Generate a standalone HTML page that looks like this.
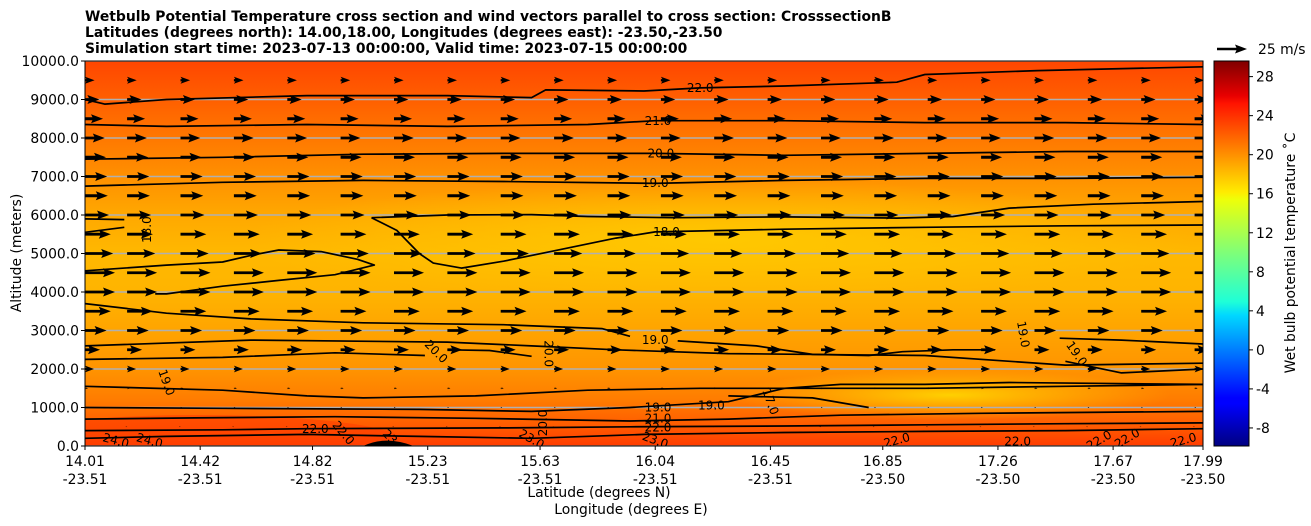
<!DOCTYPE html>
<html><head><meta charset="utf-8"><style>
html,body{margin:0;padding:0;background:#fff;}
svg{display:block;font-family:"DejaVu Sans","Liberation Sans",sans-serif;}
</style></head><body>
<svg id="chart" width="1311" height="526" viewBox="0 0 1311 526" xmlns="http://www.w3.org/2000/svg">
<defs>
<linearGradient id="field" x1="0" y1="0" x2="0" y2="1">
<stop offset="0" stop-color="#ff4600"/>
<stop offset="0.08" stop-color="#ff5a00"/>
<stop offset="0.2" stop-color="#ff7800"/>
<stop offset="0.3" stop-color="#ff9000"/>
<stop offset="0.4" stop-color="#ffa800"/>
<stop offset="0.5" stop-color="#ffb800"/>
<stop offset="0.6" stop-color="#ffb400"/>
<stop offset="0.7" stop-color="#ffa400"/>
<stop offset="0.8" stop-color="#ff9400"/>
<stop offset="0.88" stop-color="#ff7c00"/>
<stop offset="0.95" stop-color="#ff5a00"/>
<stop offset="1" stop-color="#ff3c00"/>
</linearGradient>
<radialGradient id="core" cx="0.5" cy="0.5" r="0.5">
<stop offset="0" stop-color="#ffc800" stop-opacity="1"/>
<stop offset="1" stop-color="#ffc800" stop-opacity="0"/>
</radialGradient>
<radialGradient id="core2" cx="0.5" cy="0.5" r="0.5">
<stop offset="0" stop-color="#ffd000" stop-opacity="1"/>
<stop offset="1" stop-color="#ffc000" stop-opacity="0"/>
</radialGradient>
<linearGradient id="jet" x1="0" y1="1" x2="0" y2="0">
<stop offset="0" stop-color="#000080"/>
<stop offset="0.11" stop-color="#0000ff"/>
<stop offset="0.125" stop-color="#0000ff"/>
<stop offset="0.34" stop-color="#00d8ff"/>
<stop offset="0.375" stop-color="#1fffd7"/>
<stop offset="0.5" stop-color="#7dff7a"/>
<stop offset="0.64" stop-color="#eeff09"/>
<stop offset="0.66" stop-color="#ffeb00"/>
<stop offset="0.89" stop-color="#ff1300"/>
<stop offset="0.91" stop-color="#e80000"/>
<stop offset="1" stop-color="#800000"/>
</linearGradient>
<clipPath id="plotclip"><rect x="85" y="61" width="1118" height="385"/></clipPath>
</defs>
<g id="title" font-weight="bold" font-size="13.9">
<text x="85" y="21">Wetbulb Potential Temperature cross section and wind vectors parallel to cross section: CrosssectionB</text>
<text x="85" y="37">Latitudes (degrees north): 14.00,18.00, Longitudes (degrees east): -23.50,-23.50</text>
<text x="85" y="53">Simulation start time: 2023-07-13 00:00:00, Valid time: 2023-07-15 00:00:00</text>
</g>
<g id="plot" clip-path="url(#plotclip)">
<rect x="85" y="61" width="1118" height="385" fill="url(#field)"/>
<ellipse cx="720" cy="240" rx="480" ry="60" fill="url(#core)"/>
<ellipse cx="950" cy="395" rx="220" ry="25" fill="url(#core2)"/>
<ellipse cx="200" cy="440" rx="200" ry="25" fill="#ff4000" opacity="0.6"/>
<g id="grid"></g>
<g id="contours"></g>
<g id="arrows"></g>
</g>
<rect x="85" y="61" width="1118" height="385" fill="none" stroke="#000" stroke-width="1"/>
<g id="axes"></g>
<text transform="translate(21,253) rotate(-90)" text-anchor="middle" font-size="13.9">Altitude (meters)</text>
<text x="599" y="497" text-anchor="middle" font-size="13.9">Latitude (degrees N)</text>
<text x="631" y="514" text-anchor="middle" font-size="13.9">Longitude (degrees E)</text>
<rect x="1214" y="61" width="35" height="385" fill="url(#jet)" stroke="#000" stroke-width="1"/>
<g id="cbar"></g>
<text transform="translate(1295,253) rotate(-90)" text-anchor="middle" font-size="13.9">Wet bulb potential temperature ˚C</text>
<g id="qkey">
<line x1="1217" y1="49" x2="1238" y2="49" stroke="#000" stroke-width="2.4"/>
<polygon points="1247,49 1235,44.5 1237,49 1235,53.5" fill="#000"/>
<text x="1258" y="54" font-size="13.9">25 m/s</text>
</g>
</svg>
<script>
// ---- data ----
const latTicks=[14.01,14.42,14.82,15.23,15.63,16.04,16.45,16.85,17.26,17.67,17.99];
const lonTicks=["-23.51","-23.51","-23.51","-23.51","-23.51","-23.51","-23.51","-23.50","-23.50","-23.50","-23.50"];
const altTicks=[0,1000,2000,3000,4000,5000,6000,7000,8000,9000,10000];
const cbarTicks=[-8,-4,0,4,8,12,16,20,24,28];
const windAlts=[500,1000,1500,2000,2500,3000,3500,4000,4500,5000,5500,6000,6500,7000,7500,8000,8500,9000,9500];
const windSpeeds=[-0.8,0.8,2.5,7.5,12.5,18,21.5,25,25,23.5,21.5,20,19,18.5,17.5,16.5,15,12,8];
const windLats=[14.01,14.16,14.35,14.54,14.73,14.92,15.11,15.30,15.49,15.68,15.87,16.06,16.25,16.44,16.63,16.82,17.01,17.20,17.39,17.58,17.77,17.96];
const contours=[
 {pts:[[14.01,9000],[14.08,8880],[14.3,9000],[14.8,9100],[15.3,9100],[15.6,9050],[15.65,9250],[16.0,9220],[16.2,9300],[16.5,9350],[16.9,9450],[17.0,9650],[17.4,9750],[17.99,9850]],label:"22.0",at:[16.2,9300],rot:0},
 {pts:[[14.01,8350],[14.3,8300],[14.8,8350],[15.3,8300],[15.8,8350],[16.04,8450],[16.5,8450],[17.0,8400],[17.5,8400],[17.99,8350]],label:"21.0",at:[16.05,8440],rot:0},
 {pts:[[14.01,7450],[14.5,7500],[15.0,7580],[15.5,7600],[16.04,7600],[16.5,7550],[17.0,7600],[17.5,7650],[17.99,7650]],label:"20.0",at:[16.06,7600],rot:0},
 {pts:[[14.01,6750],[14.5,6850],[15.0,6900],[15.5,6870],[16.04,6820],[16.5,6900],[17.0,6950],[17.5,6950],[17.99,6980]],label:"19.0",at:[16.04,6830],rot:0},
 {pts:[[15.03,5930],[15.3,6000],[15.6,6010],[15.8,5960],[16.1,5930],[16.5,5950],[16.9,5920],[17.1,5960],[17.3,6180],[17.6,6280],[17.99,6350]],label:null},
 {pts:[[15.03,5930],[15.12,5600],[15.2,5000],[15.25,4750],[15.35,4620],[15.5,4800],[15.7,5100],[15.9,5400],[16.04,5560],[16.5,5630],[17,5680],[17.5,5720],[17.99,5740]],label:"18.0",at:[16.08,5560],rot:0},
 {pts:[[14.01,5900],[14.15,5880]],label:"18.0",at:[14.23,5620],rot:-90},
 {pts:[[14.01,5550],[14.15,5680]],label:null},
 {pts:[[14.01,4550],[14.3,4700],[14.5,4780],[14.6,4950],[14.7,5090],[14.85,5050],[14.98,4850],[15.04,4700],[14.9,4450],[14.7,4300],[14.5,4150],[14.3,3950],[14.26,3950]],label:null},
 {pts:[[14.01,3700],[14.3,3450],[14.6,3300],[15.0,3200],[15.5,3150],[15.85,3050],[15.95,2850]],label:"19.0",at:[16.04,2750],rot:0},
 {pts:[[16.12,2730],[16.4,2600],[16.6,2380],[16.8,2350],[16.92,2450],[17.1,2500],[17.25,2500]],label:"19.0",at:[17.35,2900],rot:80},
 {pts:[[17.48,2800],[17.7,2750],[17.99,2650]],label:"19.0",at:[17.54,2400],rot:55},
 {pts:[[17.5,2200],[17.7,1900],[17.99,2000]],label:null},
 {pts:[[14.01,2250],[14.5,2300],[14.9,2420],[15.22,2350]],label:"20.0",at:[15.26,2450],rot:45},
 {pts:[[15.3,2500],[15.45,2480],[15.6,2330]],label:"20.0",at:[15.66,2400],rot:90},
 {pts:[[14.01,2600],[14.6,2750],[15.3,2700],[15.6,2600],[15.9,2500],[16.3,2400],[17.0,2350],[17.5,2100],[17.99,2150]],label:null},
 {pts:[[14.01,1550],[14.5,1450],[14.8,1300],[15.0,1250],[15.4,1300],[15.8,1450],[16.2,1500],[16.6,1500],[17.0,1500],[17.5,1550],[17.99,1600]],label:"19.0",at:[14.3,1650],rot:70},
 {pts:[[14.01,1000],[14.5,980],[15.2,950],[15.6,900],[15.95,1000],[16.3,1150],[16.5,1500],[16.7,1600],[17.0,1600],[17.3,1650],[17.99,1600]],label:"19.0",at:[16.05,1000],rot:0},
 {pts:[[14.01,700],[14.4,730],[14.9,760],[15.4,720],[15.95,650],[16.3,700],[16.7,800],[17.2,850],[17.99,900]],label:"21.0",at:[16.05,720],rot:0},
 {pts:[[14.01,400],[14.5,420],[14.8,450],[15.5,470],[15.95,500],[16.5,520],[17.0,550],[17.5,580],[17.99,600]],label:"22.0",at:[16.05,480],rot:0},
 {pts:[[14.01,200],[14.3,250],[14.8,300],[15.2,250],[15.6,200],[16.0,300],[16.5,350],[17.0,380],[17.5,400],[17.99,450]],label:"23.0",at:[15.6,180],rot:30},
 {pts:[[16.3,1300],[16.6,1250],[16.8,1000]],label:"17.0",at:[16.45,1150],rot:70}
];
const extraLabels=[["24.0",14.12,140,15],["24.0",14.24,140,15],["22.0",14.83,440,0],["22.0",14.93,340,50],["20.0",15.64,600,-90],["19.0",16.24,1050,0],["23.0",16.04,150,20],["22.0",16.9,150,-15],["22.0",17.33,120,0],["22.0",17.62,150,-30],["22.0",17.72,200,-30],["22.0",17.92,150,-15],["23.0",15.11,130,45]];
// ---- axes ----
const X=lat=>85+(lat-14.01)/(17.99-14.01)*1118;
const Y=alt=>446-alt/10000*385;
const CB=v=>446-(v+9.85)/(29.6+9.85)*385;
const NS="http://www.w3.org/2000/svg";
function mk(tag,attrs,parent){const e=document.createElementNS(NS,tag);for(const k in attrs)e.setAttribute(k,attrs[k]);parent.appendChild(e);return e;}
const grid=document.getElementById('grid');
altTicks.forEach(a=>{const l=mk('line',{x1:85,x2:1203,y1:Y(a),y2:Y(a),stroke:'#b0b0b0','stroke-width':1.5},grid);

});
const axes=document.getElementById('axes');
altTicks.forEach(a=>{const y=Y(a);mk('line',{x1:81,x2:85,y1:y,y2:y,stroke:'#000'},axes);
const t=mk('text',{x:79,y:y+5,'text-anchor':'end','font-size':13.9},axes);t.textContent=a.toFixed(1);

});
latTicks.forEach((lat,i)=>{const x=X(lat);mk('line',{x1:x,x2:x,y1:446,y2:450,stroke:'#000'},axes);
const t=mk('text',{x:x,y:466,'text-anchor':'middle','font-size':13.9},axes);t.textContent=lat.toFixed(2);


const t2=mk('text',{x:x,y:484,'text-anchor':'middle','font-size':13.9},axes);t2.textContent=lonTicks[i];

});
const cb=document.getElementById('cbar');
cbarTicks.forEach(v=>{const y=CB(v);mk('line',{x1:1249,x2:1253,y1:y,y2:y,stroke:'#000'},cb);
const t=mk('text',{x:1256,y:y+5,'font-size':13.9},cb);t.textContent=v;

});
// contours
const cg=document.getElementById('contours');
contours.forEach(c=>{const d=c.pts.map((p,i)=>(i?'L':'M')+X(p[0]).toFixed(1)+','+Y(p[1]).toFixed(1)).join(' ');
const p=mk('path',{d:d,fill:'none',stroke:'#000','stroke-width':1.7,'stroke-linejoin':'round'},cg);


if(c.label){const x=X(c.at[0]),y=Y(c.at[1]);
const t=mk('text',{x:x,y:y+4,'text-anchor':'middle','font-size':12,transform:`rotate(${c.rot},${x},${y})`},cg);t.textContent=c.label;

}});
extraLabels.forEach(l=>{const x=X(l[1]),y=Y(l[2]);
const t=mk('text',{x:x,y:y+4,'text-anchor':'middle','font-size':12,transform:`rotate(${l[3]},${x},${y})`},cg);t.textContent=l[0];

});
const hill=mk('path',{d:`M${X(15.0)},${Y(0)} Q${X(15.08)},${Y(280)} ${X(15.18)},${Y(0)} Z`,fill:'#000'},cg);


// arrows
const ag=document.getElementById('arrows');
const pxPer=30/25;
windAlts.forEach((a,ri)=>{const sp=windSpeeds[ri];windLats.forEach(lat=>{
const x0=X(lat),y0=Y(a);const L=sp*pxPer;const dir=L<0?-1:1;const len=Math.abs(L);
let hl=12,hw=4.5,sw=1.4;
if(len<hl){const s=Math.max(len,1.5)/hl;hl*=s;hw*=s;sw*=s;}
const L2=Math.max(len,1.5);const sx=x0+dir*(L2-hl);const tip=x0+dir*L2;
const pts=[[x0,y0-sw],[sx+dir*1.5,y0-sw],[sx,y0-hw],[tip,y0],[sx,y0+hw],[sx+dir*1.5,y0+sw],[x0,y0+sw]];
const g=mk('polygon',{points:pts.map(p=>p[0].toFixed(1)+','+p[1].toFixed(1)).join(' '),fill:'#000'},ag);

});});
</script>
</body></html>
